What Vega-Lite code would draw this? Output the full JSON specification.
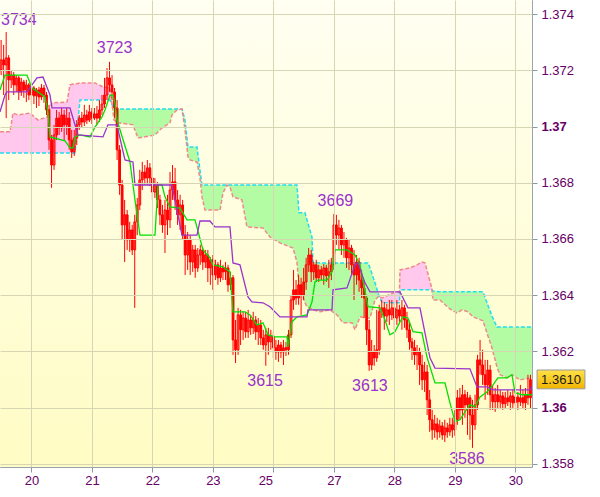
{
"$schema": "https://vega.github.io/schema/vega-lite/v6.json",
"width": 532, "height": 467,
"autosize": "none",
"padding": {"left": 0, "top": 0, "right": 68, "bottom": 30},
"background": "white",
"config": {"view": {"stroke": "#98A4AE", "strokeWidth": 1}, "font": "Liberation Sans"},
"layer": [
{
"data": {"values": [{"t0": -12.45, "t1": 198.6, "p0": 1.3745, "p1": 1.35789}]},
"mark": {"type": "rect", "fill": {"gradient": "linear", "x1": 0, "y1": 0, "x2": 0, "y2": 1, "stops": [{"offset": 0, "color": "#FFFFF2"}, {"offset": 1, "color": "#FFFCC4"}]}},
"encoding": {
"x": {"field": "t0", "type": "quantitative", "title": null, "scale": {"domain": [-12.45, 198.6], "nice": false, "zero": false, "padding": 0},
 "axis": {"title": null, "values": [0, 24, 48, 72, 96, 120, 144, 168, 192], "labelExpr": "['20','21','22','23','25','27','28','29','30'][round(datum.value/24)]", "grid": true, "gridColor": "#D6D6B4", "domain": false, "tickColor": "#8C98A4", "tickSize": 5, "labelColor": "#660066", "labelFontSize": 13, "labelFont": "Liberation Sans", "labelPadding": 2, "labelFlush": false, "labelOverlap": false, "labelOffset": {"condition": {"test": "datum.value == 96", "value": -8}, "value": 0}, "zindex": 1}},
"x2": {"field": "t1"},
"y": {"field": "p0", "type": "quantitative", "title": null, "scale": {"domain": [1.35789, 1.3745], "nice": false, "zero": false, "padding": 0},
 "axis": {"title": null, "orient": "right", "values": [1.358, 1.359, 1.36, 1.361, 1.362, 1.363, 1.364, 1.365, 1.366, 1.367, 1.368, 1.369, 1.37, 1.371, 1.372, 1.373, 1.374], "labelExpr": "round(datum.value*1000)%2==0 ? format(datum.value,'.3~f') : ''", "grid": true, "gridColor": "#D6D6B4", "gridOpacity": {"condition": {"test": "round(datum.value*1000)%2==0", "value": 1}, "value": 0}, "labelFontWeight": {"condition": {"test": "abs(datum.value-1.37)<0.0001 || abs(datum.value-1.36)<0.0001", "value": "bold"}, "value": "normal"}, "domain": false, "tickColor": "#8C98A4", "tickSize": 5, "labelColor": "#660066", "labelFontSize": 13, "labelFont": "Liberation Sans", "labelPadding": 4, "labelFlush": false, "labelOverlap": false, "labelBound": false, "zindex": 1}},
"y2": {"field": "p1"}
}
},
{
"data": {"values": "t,a,b,seg,k\n-12.45,1.36906,1.36981,1,dn\n-8.49,1.36906,1.36981,1,dn\n-7.30,1.36906,1.37048,1,dn\n-5.32,1.36906,1.37041,1,dn\n-0.56,1.36906,1.37048,1,dn\n2.62,1.36906,1.37023,1,dn\n6.19,1.36906,1.37034,1,dn\n8.17,1.36906,1.37084,1,dn\n14.12,1.36906,1.37087,1,dn\n15.31,1.36906,1.37148,1,dn\n16.50,1.36906,1.37151,1,dn\n17.29,1.36906,1.37151,1,dn\n19.28,1.37094,1.37155,1,dn\n25.23,1.37094,1.37155,1,dn\n28.40,1.37094,1.37141,1,dn\n31.18,1.37094,1.37137,1,dn\n32.01,1.37078,1.37078,1,dn\n32.01,1.37078,1.37078,2,up\n32.76,1.37062,1.37023,2,up\n34.35,1.37062,1.37013,2,up\n40.30,1.37062,1.37006,2,up\n42.28,1.37062,1.36959,2,up\n49.03,1.37062,1.36970,2,up\n51.81,1.37062,1.36995,2,up\n54.98,1.37062,1.37013,2,up\n55.78,1.37062,1.37041,2,up\n57.76,1.37062,1.37059,2,up\n59.75,1.37062,1.37062,2,up\n60.94,1.37023,1.36988,2,up\n62.13,1.36927,1.36892,2,up\n62.92,1.36927,1.36881,2,up\n65.70,1.36927,1.36874,2,up\n66.88,1.36845,1.36817,2,up\n67.68,1.36792,1.36750,2,up\n68.87,1.36792,1.36703,2,up\n74.82,1.36792,1.36703,2,up\n76.01,1.36792,1.36764,2,up\n77.60,1.36792,1.36792,2,up\n78.78,1.36792,1.36785,2,up\n79.97,1.36792,1.36750,2,up\n83.54,1.36792,1.36739,2,up\n85.52,1.36792,1.36643,2,up\n91.88,1.36792,1.36639,2,up\n94.65,1.36792,1.36607,2,up\n98.62,1.36792,1.36586,2,up\n103.78,1.36792,1.36568,2,up\n105.36,1.36792,1.36518,2,up\n106.16,1.36693,1.36437,2,up\n108.54,1.36693,1.36373,2,up\n109.33,1.36668,1.36359,2,up\n111.31,1.36607,1.36351,2,up\n111.71,1.36518,1.36348,2,up\n114.49,1.36515,1.36341,2,up\n118.46,1.36515,1.36348,2,up\n121.24,1.36515,1.36330,2,up\n123.62,1.36515,1.36302,2,up\n127.19,1.36515,1.36302,2,up\n128.38,1.36515,1.36277,2,up\n130.36,1.36515,1.36323,2,up\n133.54,1.36515,1.36319,2,up\n134.33,1.36497,1.36319,2,up\n136.31,1.36444,1.36383,2,up\n137.90,1.36397,1.36397,2,up\n137.90,1.36397,1.36397,3,dn\n139.09,1.36373,1.36390,3,dn\n143.45,1.36373,1.36408,3,dn\n146.02,1.36373,1.36412,3,dn\n146.22,1.36419,1.36490,3,dn\n150.19,1.36419,1.36497,3,dn\n152.96,1.36419,1.36508,3,dn\n154.95,1.36419,1.36518,3,dn\n156.14,1.36419,1.36515,3,dn\n158.52,1.36419,1.36437,3,dn\n158.90,1.36419,1.36419,3,dn\n158.90,1.36419,1.36419,4,up\n159.30,1.36415,1.36383,4,up\n162.08,1.36412,1.36383,4,up\n166.05,1.36412,1.36351,4,up\n168.83,1.36412,1.36337,4,up\n170.81,1.36412,1.36348,4,up\n173.19,1.36412,1.36341,4,up\n175.18,1.36412,1.36323,4,up\n179.15,1.36412,1.36309,4,up\n180.73,1.36373,1.36266,4,up\n182.71,1.36326,1.36213,4,up\n184.70,1.36287,1.36145,4,up\n185.89,1.36287,1.36117,4,up\n188.67,1.36287,1.36106,4,up\n190.65,1.36287,1.36117,4,up\n193.82,1.36287,1.36099,4,up\n198.58,1.36287,1.36106,4,up", "format": {"type": "csv", "parse": {"t": "number", "a": "number", "b": "number", "seg": "number"}}},
"layer": [
{"mark": {"type": "area", "clip": true}, "encoding": {"x": {"field": "t", "type": "quantitative", "title": null}, "y": {"field": "a", "type": "quantitative", "title": null}, "y2": {"field": "b", "title": null}, "color": {"field": "k", "type": "nominal", "scale": {"domain": ["up", "dn"], "range": ["#B4FCA4", "#FFC8EC"]}, "legend": null}, "detail": {"field": "seg", "type": "nominal"}}},
{"mark": {"type": "line", "clip": true, "color": "#22DDEE", "strokeWidth": 1.5, "strokeDash": [4, 2]}, "encoding": {"x": {"field": "t", "type": "quantitative", "title": null}, "y": {"field": "a", "type": "quantitative", "title": null}}},
{"mark": {"type": "line", "clip": true, "color": "#F08A8A", "strokeWidth": 1.5, "strokeDash": [4, 2]}, "encoding": {"x": {"field": "t", "type": "quantitative", "title": null}, "y": {"field": "b", "type": "quantitative", "title": null}}}
]
},
{
"data": {"values": "t,o,h,l,c\n-12,1.37201,1.37308,1.37183,1.37237\n-11,1.37237,1.37290,1.37112,1.37219\n-10,1.37219,1.37336,1.37030,1.37244\n-9,1.37244,1.37254,1.37094,1.37166\n-8,1.37166,1.37201,1.37137,1.37183\n-7,1.37183,1.37194,1.37112,1.37148\n-6,1.37148,1.37183,1.37123,1.37173\n-5,1.37173,1.37180,1.37094,1.37123\n-4,1.37123,1.37173,1.37109,1.37158\n-3,1.37158,1.37166,1.37102,1.37130\n-2,1.37130,1.37166,1.37087,1.37148\n-1,1.37148,1.37155,1.37094,1.37112\n0,1.37112,1.37148,1.37077,1.37137\n1,1.37137,1.37144,1.37080,1.37109\n2,1.37109,1.37137,1.37066,1.37130\n3,1.37130,1.37141,1.37073,1.37105\n4,1.37105,1.37151,1.37094,1.37137\n5,1.37137,1.37148,1.37084,1.37112\n6,1.37112,1.37123,1.37041,1.37059\n7,1.37059,1.37077,1.36917,1.36952\n8,1.36952,1.36970,1.36782,1.36863\n9,1.36863,1.37006,1.36846,1.36970\n10,1.36970,1.37059,1.36952,1.37030\n11,1.37030,1.37052,1.36970,1.36995\n12,1.36995,1.37066,1.36981,1.37041\n13,1.37041,1.37059,1.36952,1.37006\n14,1.37006,1.37066,1.36970,1.37030\n15,1.37030,1.37052,1.36917,1.36952\n16,1.36952,1.36988,1.36888,1.36910\n17,1.36910,1.36988,1.36895,1.36959\n18,1.36959,1.37023,1.36934,1.37006\n19,1.37006,1.37041,1.36988,1.37030\n20,1.37030,1.37052,1.36995,1.37016\n21,1.37016,1.37077,1.37002,1.37041\n22,1.37041,1.37059,1.37009,1.37023\n23,1.37023,1.37077,1.37016,1.37052\n24,1.37052,1.37066,1.37009,1.37030\n25,1.37030,1.37066,1.37023,1.37045\n26,1.37045,1.37073,1.37006,1.37030\n27,1.37030,1.37094,1.37016,1.37059\n28,1.37059,1.37112,1.37041,1.37080\n29,1.37080,1.37173,1.37066,1.37112\n30,1.37112,1.37208,1.37094,1.37173\n31,1.37173,1.37230,1.37123,1.37148\n32,1.37148,1.37183,1.37094,1.37123\n33,1.37123,1.37137,1.37030,1.37066\n34,1.37066,1.37094,1.36881,1.36917\n35,1.36917,1.36934,1.36757,1.36792\n36,1.36792,1.36810,1.36597,1.36650\n37,1.36650,1.36739,1.36518,1.36686\n38,1.36686,1.36703,1.36561,1.36597\n39,1.36597,1.36661,1.36554,1.36632\n40,1.36632,1.36650,1.36543,1.36561\n41,1.36561,1.36686,1.36355,1.36661\n42,1.36661,1.36746,1.36614,1.36721\n43,1.36721,1.36846,1.36703,1.36810\n44,1.36810,1.36874,1.36774,1.36838\n45,1.36838,1.36863,1.36792,1.36817\n46,1.36817,1.36881,1.36792,1.36853\n47,1.36853,1.36870,1.36789,1.36817\n48,1.36817,1.36846,1.36739,1.36767\n49,1.36767,1.36817,1.36746,1.36792\n50,1.36792,1.36803,1.36710,1.36739\n51,1.36739,1.36757,1.36650,1.36686\n52,1.36686,1.36721,1.36622,1.36650\n53,1.36650,1.36739,1.36550,1.36703\n54,1.36703,1.36757,1.36614,1.36668\n55,1.36668,1.36838,1.36639,1.36774\n56,1.36774,1.36863,1.36739,1.36803\n57,1.36803,1.36853,1.36703,1.36739\n58,1.36739,1.36774,1.36650,1.36686\n59,1.36686,1.36757,1.36632,1.36721\n60,1.36721,1.36739,1.36597,1.36614\n61,1.36614,1.36650,1.36472,1.36543\n62,1.36543,1.36625,1.36490,1.36597\n63,1.36597,1.36614,1.36472,1.36518\n64,1.36518,1.36579,1.36483,1.36561\n65,1.36561,1.36579,1.36462,1.36497\n66,1.36497,1.36568,1.36483,1.36543\n67,1.36543,1.36579,1.36508,1.36561\n68,1.36561,1.36568,1.36490,1.36518\n69,1.36518,1.36561,1.36497,1.36543\n70,1.36543,1.36561,1.36447,1.36497\n71,1.36497,1.36536,1.36437,1.36526\n72,1.36526,1.36543,1.36419,1.36472\n73,1.36472,1.36526,1.36454,1.36508\n74,1.36508,1.36518,1.36437,1.36462\n75,1.36462,1.36526,1.36447,1.36497\n76,1.36497,1.36508,1.36454,1.36483\n77,1.36483,1.36518,1.36454,1.36497\n78,1.36497,1.36508,1.36412,1.36437\n79,1.36437,1.36483,1.36419,1.36462\n80,1.36462,1.36472,1.36188,1.36241\n81,1.36241,1.36312,1.36159,1.36206\n82,1.36206,1.36355,1.36188,1.36330\n83,1.36330,1.36348,1.36223,1.36277\n84,1.36277,1.36341,1.36241,1.36319\n85,1.36319,1.36341,1.36248,1.36270\n86,1.36270,1.36348,1.36248,1.36312\n87,1.36312,1.36330,1.36259,1.36284\n88,1.36284,1.36341,1.36262,1.36312\n89,1.36312,1.36326,1.36241,1.36270\n90,1.36270,1.36319,1.36223,1.36294\n91,1.36294,1.36312,1.36223,1.36248\n92,1.36248,1.36277,1.36206,1.36223\n93,1.36223,1.36284,1.36149,1.36259\n94,1.36259,1.36284,1.36188,1.36234\n95,1.36234,1.36277,1.36206,1.36255\n96,1.36255,1.36270,1.36177,1.36213\n97,1.36213,1.36241,1.36170,1.36198\n98,1.36198,1.36241,1.36163,1.36223\n99,1.36223,1.36234,1.36177,1.36198\n100,1.36198,1.36241,1.36152,1.36213\n101,1.36213,1.36234,1.36184,1.36206\n102,1.36206,1.36277,1.36188,1.36259\n103,1.36259,1.36401,1.36248,1.36383\n104,1.36383,1.36490,1.36348,1.36419\n105,1.36419,1.36454,1.36366,1.36390\n106,1.36390,1.36472,1.36366,1.36437\n107,1.36437,1.36462,1.36330,1.36401\n108,1.36401,1.36497,1.36383,1.36447\n109,1.36447,1.36533,1.36419,1.36508\n110,1.36508,1.36568,1.36483,1.36543\n111,1.36543,1.36561,1.36447,1.36483\n112,1.36483,1.36518,1.36454,1.36508\n113,1.36508,1.36526,1.36447,1.36462\n114,1.36462,1.36508,1.36447,1.36490\n115,1.36490,1.36504,1.36454,1.36472\n116,1.36472,1.36511,1.36437,1.36497\n117,1.36497,1.36508,1.36447,1.36469\n118,1.36469,1.36526,1.36426,1.36483\n119,1.36483,1.36533,1.36454,1.36508\n120,1.36508,1.36689,1.36490,1.36650\n121,1.36650,1.36686,1.36579,1.36614\n122,1.36614,1.36668,1.36561,1.36639\n123,1.36639,1.36650,1.36543,1.36579\n124,1.36579,1.36625,1.36533,1.36597\n125,1.36597,1.36604,1.36497,1.36533\n126,1.36533,1.36597,1.36490,1.36568\n127,1.36568,1.36579,1.36472,1.36508\n128,1.36508,1.36561,1.36383,1.36472\n129,1.36472,1.36543,1.36437,1.36518\n130,1.36518,1.36533,1.36412,1.36454\n131,1.36454,1.36490,1.36390,1.36426\n132,1.36426,1.36454,1.36319,1.36390\n133,1.36390,1.36401,1.36223,1.36277\n134,1.36277,1.36312,1.36131,1.36152\n135,1.36152,1.36241,1.36134,1.36198\n136,1.36198,1.36223,1.36149,1.36177\n137,1.36177,1.36348,1.36163,1.36206\n138,1.36206,1.36366,1.36188,1.36341\n139,1.36341,1.36383,1.36319,1.36355\n140,1.36355,1.36376,1.36277,1.36326\n141,1.36326,1.36369,1.36305,1.36348\n142,1.36348,1.36383,1.36294,1.36330\n143,1.36330,1.36383,1.36312,1.36355\n144,1.36355,1.36373,1.36277,1.36319\n145,1.36319,1.36383,1.36294,1.36348\n146,1.36348,1.36366,1.36305,1.36326\n147,1.36326,1.36383,1.36277,1.36355\n148,1.36355,1.36366,1.36284,1.36312\n149,1.36312,1.36341,1.36248,1.36277\n150,1.36277,1.36305,1.36206,1.36234\n151,1.36234,1.36248,1.36170,1.36213\n152,1.36213,1.36241,1.36152,1.36188\n153,1.36188,1.36223,1.36134,1.36198\n154,1.36198,1.36213,1.36081,1.36152\n155,1.36152,1.36188,1.36063,1.36099\n156,1.36099,1.36163,1.36056,1.36127\n157,1.36127,1.36152,1.35974,1.36028\n158,1.36028,1.36063,1.35914,1.35957\n159,1.35957,1.35992,1.35886,1.35921\n160,1.35921,1.35974,1.35893,1.35942\n161,1.35942,1.35964,1.35886,1.35914\n162,1.35914,1.35957,1.35893,1.35935\n163,1.35935,1.35949,1.35886,1.35903\n164,1.35903,1.35957,1.35878,1.35928\n165,1.35928,1.35946,1.35893,1.35914\n166,1.35914,1.35964,1.35900,1.35939\n167,1.35939,1.35964,1.35893,1.35921\n168,1.35921,1.35992,1.35900,1.35957\n169,1.35957,1.36063,1.35939,1.36035\n170,1.36035,1.36070,1.35957,1.35992\n171,1.35992,1.36081,1.35939,1.36046\n172,1.36046,1.36063,1.35964,1.36010\n173,1.36010,1.36056,1.35903,1.36035\n174,1.36035,1.36046,1.35886,1.35974\n175,1.35974,1.36028,1.35857,1.35939\n176,1.35939,1.36046,1.35921,1.36010\n177,1.36010,1.36188,1.35992,1.36170\n178,1.36170,1.36241,1.36117,1.36152\n179,1.36152,1.36206,1.36081,1.36117\n180,1.36117,1.36170,1.36028,1.36081\n181,1.36081,1.36170,1.36046,1.36134\n182,1.36134,1.36152,1.35992,1.36046\n183,1.36046,1.36081,1.35992,1.36021\n184,1.36021,1.36070,1.35985,1.36046\n185,1.36046,1.36081,1.35999,1.36021\n186,1.36021,1.36063,1.35999,1.36042\n187,1.36042,1.36056,1.35992,1.36014\n188,1.36014,1.36056,1.35999,1.36035\n189,1.36035,1.36063,1.36006,1.36021\n190,1.36021,1.36056,1.35992,1.36042\n191,1.36042,1.36063,1.35999,1.36017\n192,1.36017,1.36070,1.36006,1.36038\n193,1.36038,1.36056,1.35992,1.36021\n194,1.36021,1.36081,1.36006,1.36035\n195,1.36035,1.36063,1.35999,1.36017\n196,1.36017,1.36070,1.35992,1.36046\n197,1.36046,1.36117,1.36010,1.36035\n198,1.36035,1.36117,1.35999,1.36100", "format": {"type": "csv", "parse": {"t": "number", "o": "number", "h": "number", "l": "number", "c": "number"}}},
"layer": [
{"mark": {"type": "rule", "clip": true, "color": "#FF0000", "strokeWidth": 1}, "encoding": {"x": {"field": "t", "type": "quantitative", "title": null}, "y": {"field": "l", "type": "quantitative", "title": null}, "y2": {"field": "h", "title": null}}},
{"mark": {"type": "bar", "clip": true, "size": 1.8, "stroke": "#FF0000", "strokeWidth": 1}, "encoding": {"x": {"field": "t", "type": "quantitative", "title": null}, "y": {"field": "o", "type": "quantitative", "title": null}, "y2": {"field": "c", "title": null}, "fill": {"condition": {"test": "datum.c < datum.o", "value": "#FF0000"}, "value": "transparent"}}}
]
},
{
"data": {"values": "t,v\n-12.45,1.37130\n-10.47,1.37183\n-1.75,1.37183\n0.24,1.37137\n2.62,1.37123\n5.40,1.37105\n6.59,1.37052\n7.38,1.36963\n13.33,1.36949\n15.31,1.36924\n16.50,1.36924\n17.29,1.36963\n19.28,1.36970\n23.24,1.36963\n25.23,1.36998\n28.01,1.37034\n29.19,1.37059\n31.18,1.37112\n32.37,1.37112\n33.16,1.37084\n33.95,1.37023\n39.11,1.36874\n41.10,1.36739\n43.08,1.36614\n49.03,1.36614\n50.22,1.36792\n51.81,1.36792\n53.00,1.36750\n54.98,1.36714\n58.95,1.36710\n61.73,1.36668\n64.90,1.36668\n68.07,1.36561\n70.85,1.36533\n72.04,1.36508\n76.01,1.36501\n78.78,1.36483\n79.97,1.36341\n84.73,1.36341\n86.71,1.36330\n89.49,1.36294\n91.88,1.36302\n93.86,1.36259\n96.63,1.36252\n101.39,1.36252\n101.79,1.36216\n103.38,1.36305\n105.36,1.36323\n109.33,1.36330\n111.31,1.36376\n112.50,1.36447\n113.69,1.36454\n117.26,1.36454\n119.25,1.36483\n120.44,1.36561\n125.20,1.36561\n128.37,1.36543\n130.35,1.36508\n133.52,1.36359\n138.28,1.36355\n140.27,1.36312\n142.25,1.36259\n144.23,1.36270\n146.22,1.36305\n147.41,1.36323\n149.40,1.36319\n151.38,1.36270\n154.95,1.36266\n156.94,1.36180\n160.11,1.36088\n164.08,1.36088\n166.06,1.36017\n168.04,1.35950\n170.03,1.35957\n172.01,1.35985\n174.00,1.36010\n175.98,1.36003\n177.96,1.36038\n180.74,1.36056\n183.12,1.36081\n185.10,1.36106\n188.67,1.36106\n190.66,1.36117\n191.85,1.36053\n194.63,1.36046\n198.50,1.36046", "format": {"type": "csv", "parse": {"t": "number", "v": "number"}}},
"mark": {"type": "line", "clip": true, "color": "#00E000", "strokeWidth": 1.3},
"encoding": {"x": {"field": "t", "type": "quantitative", "title": null}, "y": {"field": "v", "type": "quantitative", "title": null}}
},
{
"data": {"values": "t,v\n-12.45,1.37052\n-10.47,1.37112\n-9.68,1.37123\n-1.75,1.37123\n2.22,1.37173\n4.60,1.37176\n7.38,1.37112\n8.17,1.37066\n15.31,1.37066\n18.48,1.36970\n28.40,1.36963\n30.38,1.37006\n33.95,1.37006\n37.13,1.36881\n40.30,1.36874\n41.10,1.36792\n55.78,1.36792\n59.75,1.36614\n65.70,1.36614\n66.88,1.36664\n70.85,1.36664\n72.83,1.36643\n78.78,1.36643\n79.97,1.36515\n82.75,1.36508\n85.93,1.36394\n87.51,1.36376\n91.88,1.36373\n94.65,1.36359\n98.62,1.36323\n109.33,1.36323\n109.73,1.36348\n119.25,1.36348\n119.64,1.36419\n125.20,1.36426\n128.37,1.36508\n129.56,1.36515\n132.34,1.36444\n134.32,1.36412\n146.22,1.36412\n149.40,1.36355\n154.16,1.36355\n158.12,1.36177\n160.11,1.36141\n173.99,1.36138\n176.77,1.36074\n180.74,1.36074\n183.12,1.36063\n197.80,1.36063\n198.50,1.36077", "format": {"type": "csv", "parse": {"t": "number", "v": "number"}}},
"mark": {"type": "line", "clip": true, "color": "#9933CC", "strokeWidth": 1.3},
"encoding": {"x": {"field": "t", "type": "quantitative", "title": null}, "y": {"field": "v", "type": "quantitative", "title": null}}
},
{
"data": {"values": [{"t": -5.0, "p": 1.37379, "label": "3734"}, {"t": 33.0, "p": 1.37279, "label": "3723"}, {"t": 120.6, "p": 1.36735, "label": "3669"}, {"t": 92.7, "p": 1.36095, "label": "3615"}, {"t": 134.3, "p": 1.36076, "label": "3613"}, {"t": 172.8, "p": 1.35818, "label": "3586"}]},
"mark": {"type": "text", "color": "#9932CC", "fontSize": 16, "font": "Liberation Sans", "align": "center", "baseline": "middle"},
"encoding": {"x": {"field": "t", "type": "quantitative", "title": null}, "y": {"field": "p", "type": "quantitative", "title": null}, "text": {"field": "label"}}
},
{
"data": {"values": [{"t0": 200.6, "t1": 219.6, "p0": 1.36134, "p1": 1.36067, "tc": 210.1, "pc": 1.361, "label": "1.3610"}]},
"layer": [
{"mark": {"type": "rect", "clip": false, "stroke": "#9A9A9A", "strokeWidth": 1, "fill": {"gradient": "linear", "x1": 0, "y1": 0, "x2": 0, "y2": 1, "stops": [{"offset": 0, "color": "#FFE24A"}, {"offset": 1, "color": "#F2B400"}]}}, "encoding": {"x": {"field": "t0", "type": "quantitative", "title": null}, "x2": {"field": "t1"}, "y": {"field": "p0", "type": "quantitative", "title": null}, "y2": {"field": "p1"}}},
{"mark": {"type": "text", "clip": false, "color": "#1A1A1A", "fontSize": 13, "font": "Liberation Sans", "align": "center", "baseline": "middle"}, "encoding": {"x": {"field": "tc", "type": "quantitative", "title": null}, "y": {"field": "pc", "type": "quantitative", "title": null}, "text": {"field": "label"}}}
]
}
]
}
